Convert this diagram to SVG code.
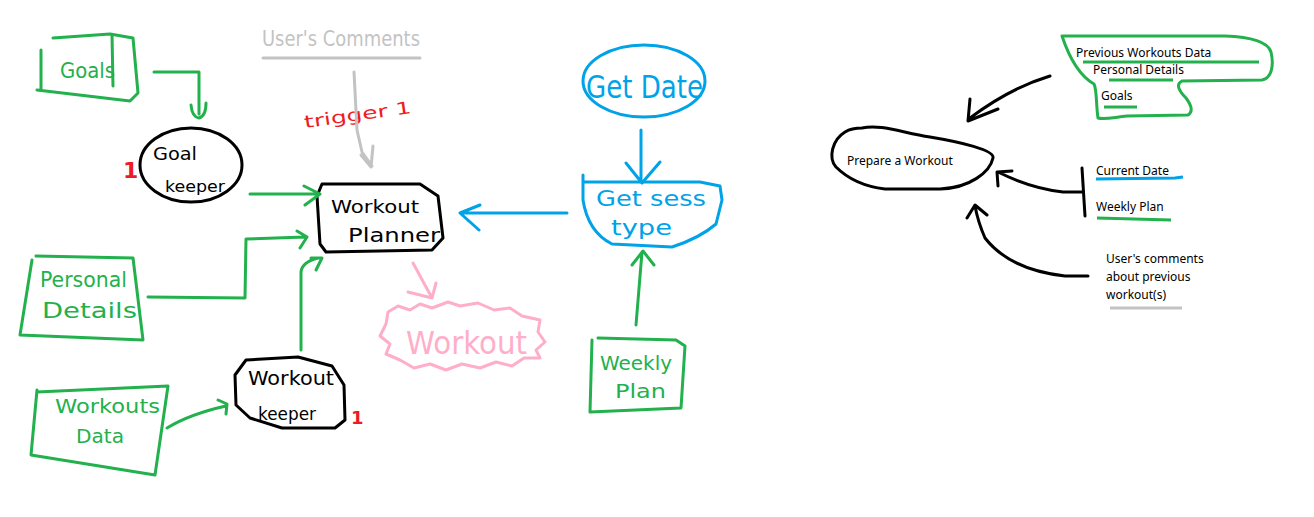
<svg xmlns="http://www.w3.org/2000/svg" width="1314" height="517" viewBox="0 0 1314 517">
<style>
.s{fill:none;stroke-width:3;stroke-linecap:round;stroke-linejoin:round}
.g{stroke:#22b14c}.k{stroke:#000}.b{stroke:#00a2e8}.p{stroke:#ffaec9}.y{stroke:#c3c3c3}.r{stroke:#ed1c24}
.h{font-family:"DejaVu Sans",sans-serif}
.hg{fill:#22b14c}.hk{fill:#000}.hb{fill:#00a2e8}.hp{fill:#ffaec9}.hy{fill:#c3c3c3}.hr{fill:#ed1c24}
.t{font-family:"Noto Sans","Open Sans",sans-serif;font-size:12px;fill:#000}
.u{fill:none;stroke-width:3;stroke-linecap:butt}
</style>
<rect width="1314" height="517" fill="#fff"/>

<g id="goals">
<path class="s g" d="M41,50 L41,90 M37,90 L130,101 L138,93 L133,38 L110,34 L53,38 M112,35 L113,86"/>
<text class="h hg" x="60" y="78" font-size="22" textLength="55" lengthAdjust="spacingAndGlyphs">Goals</text>
</g>
<g id="goal-keeper">
<ellipse class="s k" cx="191" cy="165" rx="51" ry="37"/>
<text class="h hk" x="153" y="160" font-size="18" textLength="44" lengthAdjust="spacingAndGlyphs">Goal</text>
<text class="h hk" x="165" y="192" font-size="16" textLength="60" lengthAdjust="spacingAndGlyphs">keeper</text>
<text class="h hr" x="123" y="178" font-size="22" font-weight="bold">1</text>
</g>
<g id="users-comments">
<text class="h hy" x="262" y="46" font-size="22" textLength="158" lengthAdjust="spacingAndGlyphs">User's Comments</text>
<path class="s y" d="M263,58 L420,58"/>
</g>
<g id="trigger">
<text class="h hr" x="305" y="128" font-size="17" textLength="108" lengthAdjust="spacingAndGlyphs" transform="rotate(-8 305 128)">trigger 1</text>
</g>
<g id="workout-planner">
<path class="s k" d="M322,184 L420,184 L438,196 L443,238 L432,250 L326,252 L320,244 L317,196 Z"/>
<text class="h hk" x="331" y="213" font-size="18" textLength="88" lengthAdjust="spacingAndGlyphs">Workout</text>
<text class="h hk" x="348" y="242" font-size="20" textLength="92" lengthAdjust="spacingAndGlyphs">Planner</text>
</g>
<g id="personal-details">
<path class="s g" d="M32,260 L20,335 L143,340 L133,258 L36,256"/>
<text class="h hg" x="40" y="287" font-size="22" textLength="87" lengthAdjust="spacingAndGlyphs">Personal</text>
<text class="h hg" x="42" y="318" font-size="22" textLength="95" lengthAdjust="spacingAndGlyphs">Details</text>
</g>
<g id="workout-keeper">
<path class="s k" d="M246,360 L298,357 L332,366 L344,385 L345,420 L335,428 L282,428 L250,418 L236,405 L235,375 Z"/>
<text class="h hk" x="248" y="385" font-size="20" textLength="86" lengthAdjust="spacingAndGlyphs">Workout</text>
<text class="h hk" x="258" y="420" font-size="18" textLength="58" lengthAdjust="spacingAndGlyphs">keeper</text>
<text class="h hr" x="351" y="424" font-size="18" font-weight="bold">1</text>
</g>
<g id="workouts-data">
<path class="s g" d="M37,390 L31,455 L155,475 L168,386 L37,392"/>
<text class="h hg" x="55" y="413" font-size="20" textLength="105" lengthAdjust="spacingAndGlyphs">Workouts</text>
<text class="h hg" x="76" y="443" font-size="20" textLength="48" lengthAdjust="spacingAndGlyphs">Data</text>
</g>
<g id="workout-output">
<path class="s p" d="M388,312 L398,306 L410,310 L420,304 L432,308 L448,302 L460,306 L478,303 L494,310 L510,308 L522,316 L540,320 L538,332 L545,342 L536,350 L540,358 L524,358 L512,366 L496,362 L480,368 L462,364 L446,370 L430,364 L414,368 L400,360 L386,354 L390,344 L380,336 L386,324 Z"/>
<text class="h hp" x="406" y="354" font-size="32" textLength="121" lengthAdjust="spacingAndGlyphs">Workout</text>
</g>
<g id="get-date">
<ellipse class="s b" cx="644" cy="81" rx="61" ry="36"/>
<text class="h hb" x="586" y="98" font-size="32" textLength="117" lengthAdjust="spacingAndGlyphs">Get Date</text>
</g>
<g id="get-sess-type">
<path class="s b" d="M583,175 L583,200 Q588,232 612,244 L672,247 Q700,238 716,224 L722,200 L720,186 L700,182 L583,182"/>
<text class="h hb" x="596" y="206" font-size="22" textLength="110" lengthAdjust="spacingAndGlyphs">Get sess</text>
<text class="h hb" x="611" y="235" font-size="22" textLength="61" lengthAdjust="spacingAndGlyphs">type</text>
</g>
<g id="weekly-plan">
<path class="s g" d="M592,340 L590,412 L681,408 L685,346 L676,340 L598,338"/>
<text class="h hg" x="600" y="370" font-size="20" textLength="72" lengthAdjust="spacingAndGlyphs">Weekly</text>
<text class="h hg" x="615" y="398" font-size="20" textLength="51" lengthAdjust="spacingAndGlyphs">Plan</text>
</g>

<g id="prepare-workout">
<path class="s k" d="M862,128 C880,124 900,132 930,137 C960,142 995,150 993,158 C990,172 970,188 940,189 L885,189 C860,186 845,176 836,167 C828,158 832,140 845,132 C850,129 856,128 862,128 Z"/>
<text class="t" x="847" y="165">Prepare a Workout</text>
</g>
<g id="stored-data">
<path class="s g" d="M1062,36 L1225,36 C1250,37 1268,42 1271,52 C1274,65 1272,78 1262,80 L1182,81 C1176,84 1178,90 1186,98 C1192,106 1193,112 1188,115 L1127,116 C1115,117 1105,120 1098,118 C1096,105 1097,90 1094,84 C1080,76 1070,60 1062,36 Z"/>
<text class="t" x="1076" y="57">Previous Workouts Data</text>
<text class="t" x="1093" y="74">Personal Details</text>
<text class="t" x="1101" y="100">Goals</text>
<path class="u g" d="M1083,62 L1259,62 M1109,80 L1173,80 M1104,107 L1137,107"/>
</g>
<g id="date-plan">
<text class="t" x="1096" y="175">Current Date</text>
<path class="u b" d="M1096,179 L1175,178 L1183,177"/>
<text class="t" x="1096" y="211">Weekly Plan</text>
<path class="u g" d="M1097,218 L1171,220"/>
<path class="s k" d="M1082,168 L1085,216"/>
</g>
<g id="user-comments">
<text class="t" x="1106" y="263">User's comments</text>
<text class="t" x="1106" y="281">about previous</text>
<text class="t" x="1106" y="299">workout(s)</text>
<path class="u y" d="M1110,308 L1182,308"/>
</g>

<g id="connectors">
<path class="s g" d="M154,72 L199,72 L199,114 M191,105 Q192,117 199,118 Q206,116 206,103"/>
<path class="s g" d="M250,194 L318,194 M304,186 L320,194 L305,205"/>
<path class="s y" d="M354,72 L357,130 L362,152 L372,166 M361,155 L371,167 L373,146"/>
<path class="s g" d="M148,297 L245,298 L246,239 L305,237 M297,231 L307,237 L300,248"/>
<path class="s g" d="M301,350 L301,272 Q302,262 318,258 M311,258 L322,258 L316,270"/>
<path class="s g" d="M167,428 Q190,414 226,406 M218,400 L227,404 L226,414"/>
<path class="s p" d="M413,263 L432,298 M408,292 L432,298 L436,283"/>
<path class="s b" d="M641,130 L641,180 M626,163 L642,183 L660,162"/>
<path class="s b" d="M567,213 L462,213 M480,205 L460,213 L479,230"/>
<path class="s g" d="M636,325 L642,252 M632,265 L643,251 L654,265"/>
<path class="s k" d="M1050,76 Q1010,88 970,118 M970,99 L968,121 L998,109"/>
<path class="s k" d="M1082,192 L1063,192 Q1030,188 998,172 M1012,171 L997,172 L998,186"/>
<path class="s k" d="M1088,276 L1065,276 Q1010,270 985,238 Q978,222 975,206 M967,218 L975,205 L987,215"/>
</g>
</svg>
